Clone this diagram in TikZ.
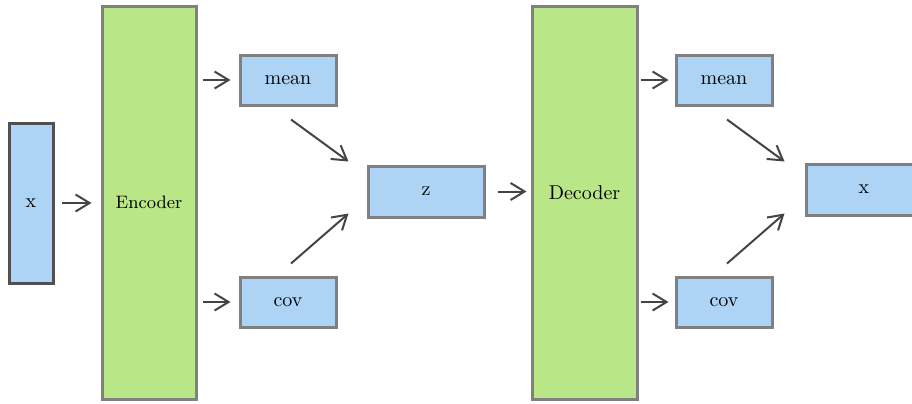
\documentclass[tikz,border=0pt]{standalone}
\usetikzlibrary{arrows.meta,calc}
\definecolor{boxblue}{HTML}{ADD3F5}
\definecolor{boxgreen}{HTML}{B9E686}
\definecolor{bordergray}{HTML}{808080}
\definecolor{darkborder}{HTML}{505050}
\definecolor{arrowgray}{HTML}{444444}
\begin{document}
\begin{tikzpicture}[x=0.5pt,y=-0.5pt,
  bluebox/.style={draw=bordergray,fill=boxblue,line width=1.5pt,inner sep=0pt,font=\normalsize},
  greenbox/.style={draw=bordergray,fill=boxgreen,line width=1.5pt,inner sep=0pt},
  conn/.style={draw=arrowgray,line width=1pt,-{Straight Barb[length=7pt,width=8.5pt,line width=1pt]}}]
\useasboundingbox (0,0) rectangle (912,403);
\node[bluebox,draw=darkborder,minimum width=22pt,minimum height=80pt] (xin) at (31,203) {x};
\node[greenbox,minimum width=47pt,minimum height=196.5pt,font=\small] (enc) at (149,202.5) {Encoder};
\node[bluebox,minimum width=48pt,minimum height=25pt] (mean1) at (288,80) {mean};
\node[bluebox,minimum width=48pt,minimum height=25pt] (cov1) at (288,302) {cov};
\node[bluebox,minimum width=58pt,minimum height=25.5pt] (z) at (426,191.5) {z};
\node[greenbox,minimum width=52.5pt,minimum height=196.5pt,label={[font=\normalsize,yshift=5pt]center:Decoder}] (dec) at (584.5,202.5) {};
\node[bluebox,minimum width=48pt,minimum height=25pt] (mean2) at (724,80) {mean};
\node[bluebox,minimum width=48pt,minimum height=25pt] (cov2) at (724,302) {cov};
\node[bluebox,minimum width=58pt,minimum height=25.5pt] (xout) at (864,189.5) {x};
% free ends of diagonal arrows
\coordinate (m1s) at ($(mean1.south)+(3,13)$);
\coordinate (z1a) at ($(z.north west)+(-18,-3)$);
\coordinate (c1n) at ($(cov1.north)+(3,-12)$);
\coordinate (z1b) at ($(z.south west)+(-18,-5)$);
\coordinate (m2s) at ($(mean2.south)+(3,13)$);
\coordinate (x2a) at ($(xout.north west)+(-20,-1)$);
\coordinate (c2n) at ($(cov2.north)+(3,-12)$);
\coordinate (x2b) at ($(xout.south west)+(-20,-3)$);
\draw[conn,shorten <=3.5pt,shorten >=4.5pt] (xin.east) -- (xin.east -| enc.west);
\draw[conn,shorten <=2.5pt,shorten >=4pt] (enc.east |- mean1.west) -- (mean1.west);
\draw[conn,shorten <=2.5pt,shorten >=4pt] (enc.east |- cov1.west) -- (cov1.west);
\draw[conn] (m1s) -- (z1a);
\draw[conn] (c1n) -- (z1b);
\draw[conn,shorten <=6pt,shorten >=2pt] (z.east) -- (z.east -| dec.west);
\draw[conn,shorten <=1pt,shorten >=3pt] (dec.east |- mean2.west) -- (mean2.west);
\draw[conn,shorten <=1pt,shorten >=3pt] (dec.east |- cov2.west) -- (cov2.west);
\draw[conn] (m2s) -- (x2a);
\draw[conn] (c2n) -- (x2b);
\end{tikzpicture}
\end{document}
